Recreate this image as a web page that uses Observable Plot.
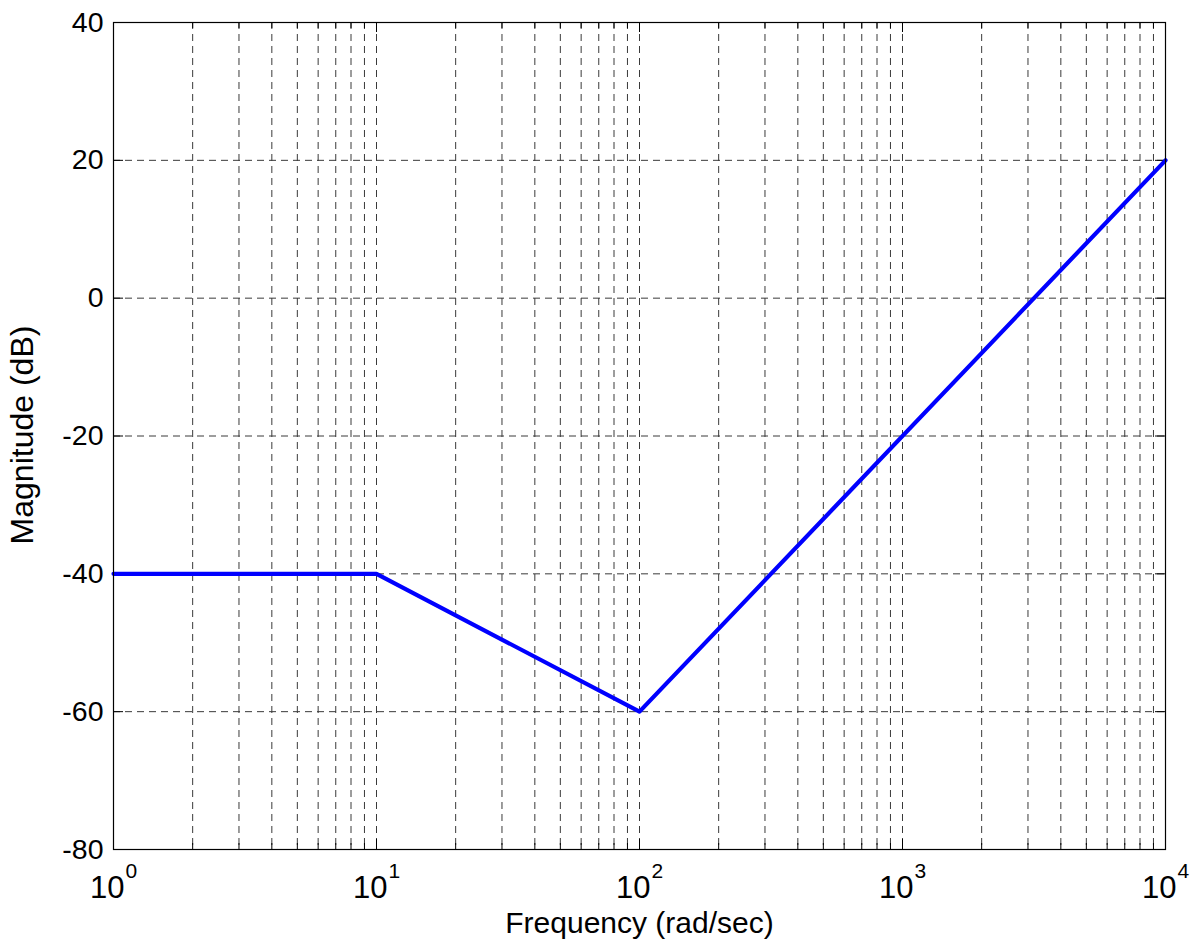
<!DOCTYPE html>
<html>
<head>
<meta charset="utf-8">
<script src="https://cdn.jsdelivr.net/npm/d3@7"></script>
<script src="https://cdn.jsdelivr.net/npm/@observablehq/plot@0.6"></script>
<style>
  html, body { margin: 0; padding: 0; background: #fff; }
  #chart svg { display: block; }
</style>
</head>
<body>
<div id="chart"></div>
<script>
// Asymptotic Bode magnitude breakpoints
const freq = [1, 10, 100, 10000];
const magnitude = [-40, -40, -60, 20];

// Axis ticks
const yTicks = [-80, -60, -40, -20, 0, 20, 40];
const decades = [1, 10, 100, 1000, 10000];
const exponents = ["0", "1", "2", "3", "4"];
const minorFreqs = [
  2, 3, 4, 5, 6, 7, 8, 9,
  20, 30, 40, 50, 60, 70, 80, 90,
  200, 300, 400, 500, 600, 700, 800, 900,
  2000, 3000, 4000, 5000, 6000, 7000, 8000, 9000
];
const xTitle = "Frequency (rad/sec)";
const yTitle = "Magnitude (dB)";

const W = 1196, H = 947;
const mL = 113, mR = 31, mT = 22, mB = 98;
const frameW = W - mL - mR, frameH = H - mT - mB;
const font = "'Liberation Sans', Arial, Helvetica, sans-serif";
const gridColor = "#3a3a3a";
const dash = "7,5";

const rows = freq.map((f, i) => ({f, m: magnitude[i]}));
const innerDecades = decades.slice(1, -1);
const innerY = yTicks.slice(1, -1);

const plot = Plot.plot({
  width: W,
  height: H,
  marginLeft: mL,
  marginRight: mR,
  marginTop: mT,
  marginBottom: mB,
  style: {fontFamily: font, background: "#fff", color: "#000", overflow: "visible"},
  x: {type: "log", domain: [1, 10000], axis: null},
  y: {domain: [-80, 40], axis: null},
  marks: [
    // grid
    Plot.ruleX(minorFreqs.concat(innerDecades), {x: d => d, stroke: gridColor, strokeWidth: 1, strokeDasharray: dash}),
    Plot.ruleY(innerY, {y: d => d, stroke: gridColor, strokeWidth: 1, strokeDasharray: dash}),
    // inward ticks: bottom & top
    Plot.tickX(minorFreqs, {x: d => d, stroke: "#000", insetTop: frameH - 6}),
    Plot.tickX(minorFreqs, {x: d => d, stroke: "#000", insetBottom: frameH - 6}),
    Plot.tickX(innerDecades, {x: d => d, stroke: "#000", insetTop: frameH - 10}),
    Plot.tickX(innerDecades, {x: d => d, stroke: "#000", insetBottom: frameH - 10}),
    // inward ticks: left & right
    Plot.tickY(innerY, {y: d => d, stroke: "#000", insetRight: frameW - 10}),
    Plot.tickY(innerY, {y: d => d, stroke: "#000", insetLeft: frameW - 10}),
    // data
    Plot.line(rows, {x: "f", y: "m", stroke: "#0000ff", strokeWidth: 4.2, strokeLinejoin: "round"}),
    Plot.frame({stroke: "#000", strokeWidth: 1.2}),
    // y tick labels
    Plot.text(yTicks, {y: d => d, text: d => String(d), frameAnchor: "left", textAnchor: "end", dx: -10, fontSize: 28.5, fill: "#000"}),
    // x tick labels 10^n
    Plot.text(decades, {x: d => d, text: () => "10", frameAnchor: "bottom", textAnchor: "end", lineAnchor: "bottom", dx: 11, dy: 48, fontSize: 31, fill: "#000"}),
    Plot.text(decades, {x: d => d, text: (d, i) => exponents[i], frameAnchor: "bottom", textAnchor: "start", lineAnchor: "bottom", dx: 12, dy: 28, fontSize: 21, fill: "#000"}),
    // axis titles
    Plot.text([xTitle], {text: d => d, frameAnchor: "bottom", textAnchor: "middle", lineAnchor: "bottom", dy: 83, fontSize: 30, fill: "#000"}),
    Plot.text([yTitle], {text: d => d, frameAnchor: "left", textAnchor: "middle", lineAnchor: "bottom", rotate: -90, dx: -81, dy: -1, fontSize: 32, letterSpacing: "0.6px", fill: "#000"})
  ]
});

document.getElementById("chart").appendChild(plot);
</script>
</body>
</html>
